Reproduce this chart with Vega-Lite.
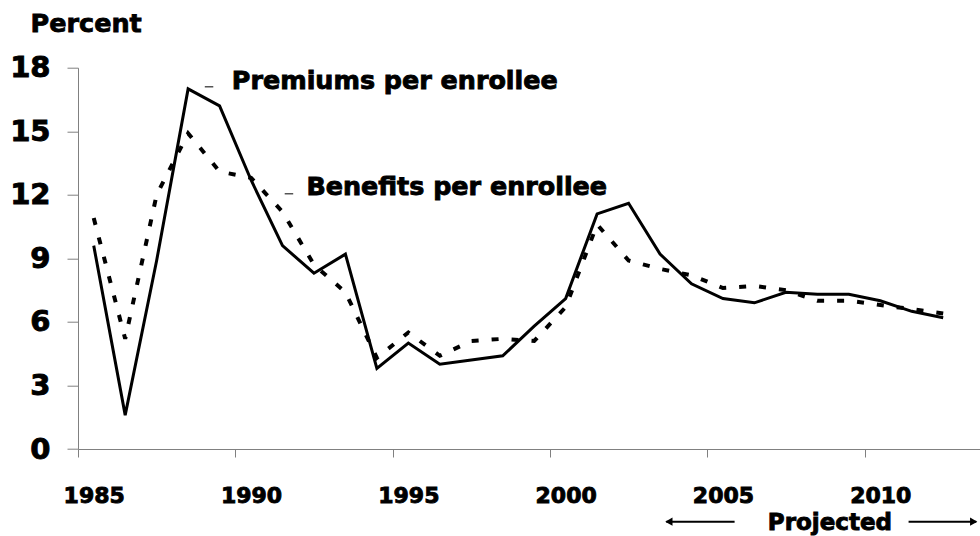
{
  "$schema": "https://vega.github.io/schema/vega-lite/v6.json",
  "width": 902,
  "height": 381.3,
  "autosize": {"type": "none"},
  "padding": {"left": 78, "top": 67.7, "right": 0, "bottom": 87},
  "background": "white",
  "config": {
    "view": {"stroke": null},
    "font": "DejaVu Sans",
    "style": {
      "guide-label": {"stroke": "black", "strokeWidth": 0.9},
      "guide-title": {"stroke": "black", "strokeWidth": 0.8}
    },
    "axis": {"grid": false, "domainColor": "#808080", "tickColor": "#808080", "labelColor": "black", "labelFont": "DejaVu Sans", "labelFontWeight": "bold", "titleFont": "DejaVu Sans", "titleColor": "black"}
  },
  "datasets": {
    "series": [
      {"year": 1985, "series": "Premiums", "value": 9.6},
      {"year": 1986, "series": "Premiums", "value": 1.6},
      {"year": 1987, "series": "Premiums", "value": 8.9},
      {"year": 1988, "series": "Premiums", "value": 17.0},
      {"year": 1989, "series": "Premiums", "value": 16.2},
      {"year": 1990, "series": "Premiums", "value": 12.7},
      {"year": 1991, "series": "Premiums", "value": 9.6},
      {"year": 1992, "series": "Premiums", "value": 8.3},
      {"year": 1993, "series": "Premiums", "value": 9.2},
      {"year": 1994, "series": "Premiums", "value": 3.8},
      {"year": 1995, "series": "Premiums", "value": 5.0},
      {"year": 1996, "series": "Premiums", "value": 4.0},
      {"year": 1997, "series": "Premiums", "value": 4.2},
      {"year": 1998, "series": "Premiums", "value": 4.4},
      {"year": 1999, "series": "Premiums", "value": 5.8},
      {"year": 2000, "series": "Premiums", "value": 7.1},
      {"year": 2001, "series": "Premiums", "value": 11.1},
      {"year": 2002, "series": "Premiums", "value": 11.6},
      {"year": 2003, "series": "Premiums", "value": 9.2},
      {"year": 2004, "series": "Premiums", "value": 7.8},
      {"year": 2005, "series": "Premiums", "value": 7.1},
      {"year": 2006, "series": "Premiums", "value": 6.9},
      {"year": 2007, "series": "Premiums", "value": 7.4},
      {"year": 2008, "series": "Premiums", "value": 7.3},
      {"year": 2009, "series": "Premiums", "value": 7.3},
      {"year": 2010, "series": "Premiums", "value": 7.0},
      {"year": 2011, "series": "Premiums", "value": 6.5},
      {"year": 2012, "series": "Premiums", "value": 6.2},
      {"year": 1985, "series": "Benefits", "value": 10.9},
      {"year": 1986, "series": "Benefits", "value": 5.2},
      {"year": 1987, "series": "Benefits", "value": 12.0},
      {"year": 1988, "series": "Benefits", "value": 14.9},
      {"year": 1989, "series": "Benefits", "value": 13.1},
      {"year": 1990, "series": "Benefits", "value": 12.8},
      {"year": 1991, "series": "Benefits", "value": 11.2},
      {"year": 1992, "series": "Benefits", "value": 8.7},
      {"year": 1993, "series": "Benefits", "value": 7.4},
      {"year": 1994, "series": "Benefits", "value": 4.3},
      {"year": 1995, "series": "Benefits", "value": 5.5},
      {"year": 1996, "series": "Benefits", "value": 4.4},
      {"year": 1997, "series": "Benefits", "value": 5.1},
      {"year": 1998, "series": "Benefits", "value": 5.2},
      {"year": 1999, "series": "Benefits", "value": 5.1},
      {"year": 2000, "series": "Benefits", "value": 6.7},
      {"year": 2001, "series": "Benefits", "value": 10.6},
      {"year": 2002, "series": "Benefits", "value": 8.9},
      {"year": 2003, "series": "Benefits", "value": 8.5},
      {"year": 2004, "series": "Benefits", "value": 8.2},
      {"year": 2005, "series": "Benefits", "value": 7.6},
      {"year": 2006, "series": "Benefits", "value": 7.7},
      {"year": 2007, "series": "Benefits", "value": 7.5},
      {"year": 2008, "series": "Benefits", "value": 7.0},
      {"year": 2009, "series": "Benefits", "value": 7.0},
      {"year": 2010, "series": "Benefits", "value": 6.8},
      {"year": 2011, "series": "Benefits", "value": 6.6},
      {"year": 2012, "series": "Benefits", "value": 6.4}
    ],
    "labels": [
      {"x": 1989.39, "y": 17.0, "text": "Premiums per enrollee"},
      {"x": 1991.76, "y": 12.0, "text": "Benefits per enrollee"}
    ],
    "notes": [
      {"x": 2008.4, "y": -3.82, "text": "Projected"}
    ],
    "leaders": [
      {"x": 1988.53, "x2": 1988.8, "y": 17.1},
      {"x": 1991.07, "x2": 1991.34, "y": 12.05}
    ],
    "arrows": [
      {"x": 2003.2, "x2": 2005.37, "y": -3.43},
      {"x": 2010.9, "x2": 2013.05, "y": -3.43}
    ],
    "heads": [
      {"x": 2003.28, "y": -3.43, "dir": "left"},
      {"x": 2012.97, "y": -3.43, "dir": "right"}
    ]
  },
  "layer": [
    {
      "data": {"name": "series"},
      "transform": [{"filter": "datum.series === 'Premiums'"}],
      "mark": {"type": "line", "color": "black", "strokeWidth": 3, "strokeJoin": "miter", "clip": false},
      "encoding": {
        "x": {
          "field": "year", "type": "quantitative",
          "scale": {"domain": [1984.5, 2013.17], "nice": false, "zero": false},
          "axis": {
            "title": null,
            "values": [1984.5, 1989.5, 1994.5, 1999.5, 2004.5, 2009.5],
            "labelExpr": "datum.value + 0.5",
            "labelOffset": 15.7,
            "labelFlush": false,
            "labelOverlap": false,
            "labelBound": false,
            "labelFontSize": 22,
            "labelBaseline": "alphabetic",
            "labelPadding": 45,
            "tickSize": 8
          }
        },
        "y": {
          "field": "value", "type": "quantitative",
          "scale": {"domain": [0, 18], "nice": false},
          "axis": {
            "values": [0, 3, 6, 9, 12, 15, 18],
            "title": "Percent",
            "titleAngle": 0,
            "titleAlign": "left",
            "titleBaseline": "alphabetic",
            "titleX": -48,
            "titleY": -36,
            "titleFontSize": 25.5,
            "titleFontWeight": "bold",
            "labelFontSize": 29,
            "labelPadding": 17,
            "labelFlush": false,
            "labelOverlap": false,
            "tickSize": 11
          }
        }
      }
    },
    {
      "data": {"name": "series"},
      "transform": [{"filter": "datum.series === 'Benefits'"}],
      "mark": {"type": "line", "color": "black", "strokeWidth": 4, "strokeDash": [7, 13], "strokeCap": "butt", "clip": false},
      "encoding": {
        "x": {"field": "year", "type": "quantitative"},
        "y": {"field": "value", "type": "quantitative"}
      }
    },
    {
      "data": {"name": "leaders"},
      "mark": {"type": "rule", "color": "#555555", "strokeWidth": 1.5},
      "encoding": {
        "x": {"field": "x", "type": "quantitative"},
        "x2": {"field": "x2"},
        "y": {"field": "y", "type": "quantitative"}
      }
    },
    {
      "data": {"name": "arrows"},
      "mark": {"type": "rule", "color": "black", "strokeWidth": 2, "clip": false},
      "encoding": {
        "x": {"field": "x", "type": "quantitative"},
        "x2": {"field": "x2"},
        "y": {"field": "y", "type": "quantitative"}
      }
    },
    {
      "data": {"name": "heads"},
      "mark": {"type": "point", "filled": true, "color": "black", "size": 70, "opacity": 1, "clip": false},
      "encoding": {
        "x": {"field": "x", "type": "quantitative"},
        "y": {"field": "y", "type": "quantitative"},
        "shape": {"field": "dir", "type": "nominal", "scale": {"domain": ["left", "right"], "range": ["triangle-left", "triangle-right"]}, "legend": null}
      }
    },
    {
      "data": {"name": "labels"},
      "mark": {"type": "text", "align": "left", "baseline": "alphabetic", "font": "DejaVu Sans", "fontWeight": "bold", "fontSize": 25.4, "fill": "black", "stroke": "black", "strokeWidth": 0.9, "clip": false},
      "encoding": {
        "x": {"field": "x", "type": "quantitative"},
        "y": {"field": "y", "type": "quantitative"},
        "text": {"field": "text"}
      }
    },
    {
      "data": {"name": "notes"},
      "mark": {"type": "text", "align": "center", "baseline": "alphabetic", "font": "DejaVu Sans", "fontWeight": "bold", "fontSize": 23, "fill": "black", "stroke": "black", "strokeWidth": 0.9, "clip": false},
      "encoding": {
        "x": {"field": "x", "type": "quantitative"},
        "y": {"field": "y", "type": "quantitative"},
        "text": {"field": "text"}
      }
    }
  ]
}
